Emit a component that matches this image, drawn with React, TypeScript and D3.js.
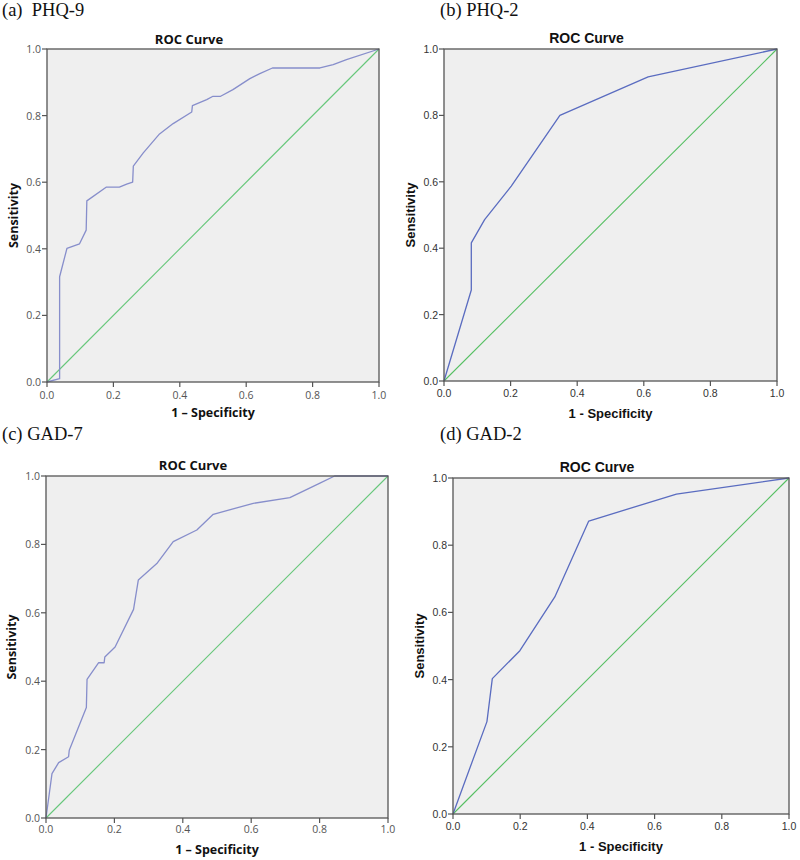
import React from "react";
import * as d3 from "d3";

// ---- data ----
const phq9Fpr = [0, 0.038, 0.038, 0.06, 0.098, 0.118, 0.12, 0.178, 0.218, 0.24, 0.258, 0.26, 0.29, 0.339, 0.38, 0.436, 0.438, 0.481, 0.5, 0.523, 0.56, 0.611, 0.641, 0.679, 0.822, 0.862, 0.902, 1];
const phq9Tpr = [0, 0.01, 0.316, 0.401, 0.415, 0.456, 0.544, 0.585, 0.585, 0.594, 0.6, 0.648, 0.688, 0.745, 0.776, 0.811, 0.83, 0.848, 0.858, 0.858, 0.878, 0.911, 0.926, 0.943, 0.943, 0.953, 0.968, 1];

const phq2Fpr = [0, 0.082, 0.082, 0.122, 0.202, 0.348, 0.613, 1];
const phq2Tpr = [0, 0.274, 0.416, 0.486, 0.587, 0.8, 0.916, 1];

const gad7Fpr = [0, 0.0175, 0.037, 0.066, 0.068, 0.118, 0.12, 0.154, 0.17, 0.172, 0.202, 0.256, 0.27, 0.324, 0.372, 0.441, 0.489, 0.606, 0.713, 0.801, 0.844, 1];
const gad7Tpr = [0, 0.13, 0.162, 0.179, 0.198, 0.323, 0.405, 0.454, 0.454, 0.471, 0.5, 0.61, 0.696, 0.744, 0.808, 0.842, 0.888, 0.92, 0.937, 0.979, 1, 1];

const gad2Fpr = [0, 0.101, 0.117, 0.199, 0.303, 0.404, 0.665, 1];
const gad2Tpr = [0, 0.275, 0.403, 0.486, 0.646, 0.872, 0.952, 1];

const ticks = [0, 0.2, 0.4, 0.6, 0.8, 1.0];
const panelLabels = ["(a)  PHQ-9", "(b) PHQ-2", "(c) GAD-7", "(d) GAD-2"];
const chartTitle = "ROC Curve";
const xTitle = "1 - Specificity";
const xTitleAlt = "1 – Specificity";
const yTitle = "Sensitivity";

type Panel = {
  label: string; labelX: number; labelY: number;
  left: number; right: number; top: number; bottom: number;
  fpr: number[]; tpr: number[];
  font: string; titleSize: number; axisSize: number; curve: string; diag: string; tickColor: string;
  xt: string; xTitleY: number; yTitleX: number; titleY: number; tickY: number;
};

const lucida = "'Open Sans', 'DejaVu Sans', sans-serif";
const arial = "'Liberation Sans', Arial, sans-serif";

const panels: Panel[] = [
  { label: panelLabels[0], labelX: 2, labelY: 15.5, left: 47, right: 379, top: 49, bottom: 382,
    fpr: phq9Fpr, tpr: phq9Tpr, font: lucida, titleSize: 13, axisSize: 12.5, curve: "#878ecb", diag: "#66c77a", tickColor: "#555",
    xt: xTitleAlt, xTitleY: 417, yTitleX: 18, titleY: 44, tickY: 399 },
  { label: panelLabels[1], labelX: 440, labelY: 15.5, left: 444, right: 777, top: 49, bottom: 381,
    fpr: phq2Fpr, tpr: phq2Tpr, font: arial, titleSize: 14, axisSize: 13, curve: "#5a6cc0", diag: "#55bf62", tickColor: "#333",
    xt: xTitle, xTitleY: 418, yTitleX: 415, titleY: 43, tickY: 397 },
  { label: panelLabels[2], labelX: 2, labelY: 440, left: 46, right: 388, top: 476, bottom: 818,
    fpr: gad7Fpr, tpr: gad7Tpr, font: lucida, titleSize: 13, axisSize: 12.5, curve: "#878ecb", diag: "#66c77a", tickColor: "#555",
    xt: xTitleAlt, xTitleY: 854, yTitleX: 16, titleY: 470, tickY: 833 },
  { label: panelLabels[3], labelX: 440, labelY: 440, left: 453, right: 789, top: 478, bottom: 814,
    fpr: gad2Fpr, tpr: gad2Tpr, font: arial, titleSize: 14, axisSize: 13, curve: "#5a6cc0", diag: "#55bf62", tickColor: "#333",
    xt: xTitle, xTitleY: 851, yTitleX: 424, titleY: 472, tickY: 830 },
];

function RocPanel({ p }: { p: Panel }) {
  const x = d3.scaleLinear().domain([0, 1]).range([p.left, p.right]);
  const y = d3.scaleLinear().domain([0, 1]).range([p.bottom, p.top]);
  const pts: [number, number][] = p.fpr.map((f, i) => [f, p.tpr[i]]);
  const line = d3.line<[number, number]>().x((d) => x(d[0])).y((d) => y(d[1]));
  const cx = (p.left + p.right) / 2;
  const cy = (p.top + p.bottom) / 2;
  return (
    <g>
      <text x={p.labelX} y={p.labelY} fontFamily="'Liberation Serif', 'Times New Roman', serif" fontSize={18.5} fill="#111" style={{ whiteSpace: "pre" }}>{p.label}</text>
      <text x={cx - 24} y={p.titleY} textAnchor="middle" fontFamily={p.font} fontWeight="bold" fontSize={p.titleSize} fill="#111">{chartTitle}</text>
      <rect x={p.left} y={p.top} width={p.right - p.left} height={p.bottom - p.top} fill="#efefef" stroke="none" />
      <path d={line([[0, 0], [1, 1]]) || ""} fill="none" stroke={p.diag} strokeWidth={1.1} />
      <path d={line(pts) || ""} fill="none" stroke={p.curve} strokeWidth={1.3} strokeLinejoin="round" />
      <rect x={p.left} y={p.top} width={p.right - p.left} height={p.bottom - p.top} fill="none" stroke="#555" strokeWidth={1.3} />
      {ticks.map((t) => (
        <g key={"x" + t}>
          <line x1={x(t)} x2={x(t)} y1={p.bottom} y2={p.bottom + 5} stroke="#555" strokeWidth={1.2} />
          <text x={x(t)} y={p.tickY} textAnchor="middle" fontFamily={p.font} fontSize={10.5} fill={p.tickColor}>{t.toFixed(1)}</text>
        </g>
      ))}
      {ticks.map((t) => (
        <g key={"y" + t}>
          <line x1={p.left - 5} x2={p.left} y1={y(t)} y2={y(t)} stroke="#555" strokeWidth={1.2} />
          <text x={p.left - 6} y={y(t) + 4} textAnchor="end" fontFamily={p.font} fontSize={10.5} fill={p.tickColor}>{t.toFixed(1)}</text>
        </g>
      ))}
      <text x={cx} y={p.xTitleY} textAnchor="middle" fontFamily={p.font} fontWeight="bold" fontSize={p.axisSize} fill="#111">{p.xt}</text>
      <text transform={`translate(${p.yTitleX},${cy}) rotate(-90)`} textAnchor="middle" fontFamily={p.font} fontWeight="bold" fontSize={p.axisSize} fill="#111">{yTitle}</text>
    </g>
  );
}

export default function App() {
  return (
    <svg width={800} height={860} style={{ display: "block", position: "absolute", left: 0, top: 0, background: "#fff" }}>
      {panels.map((p, i) => <RocPanel key={i} p={p} />)}
    </svg>
  );
}
